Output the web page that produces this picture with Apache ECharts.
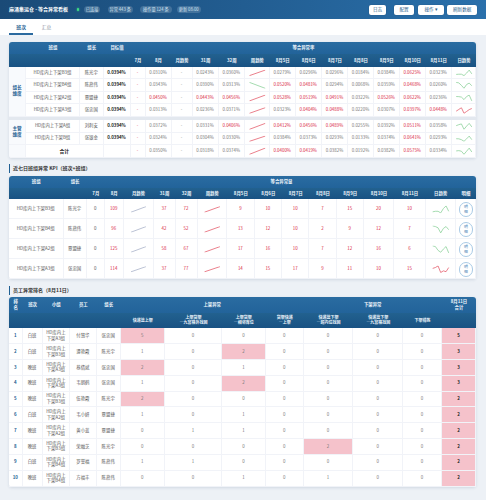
<!DOCTYPE html>
<html lang="zh">
<head>
<meta charset="UTF-8">
<title>麻涌集运仓 - 等合异常看板</title>
<script src="https://cdn.jsdelivr.net/npm/echarts@6/dist/echarts.min.js"></script>
<style>
html,body{margin:0;padding:0;width:486px;height:500px;overflow:hidden;background:#edf1f6;font-family:"Noto Sans CJK SC","Noto Sans",sans-serif;}
#page{position:absolute;left:0;top:0;width:486px;height:500px;}
#sparks{position:absolute;left:0;top:0;width:486px;height:500px;pointer-events:none;}
.box{position:absolute;box-sizing:border-box;display:flex;align-items:center;justify-content:center;text-align:center;white-space:nowrap;line-height:1.25;}
.topbar{background:linear-gradient(90deg,#1a4a77,#2a70ab);box-shadow:0 1px 3px rgba(30,60,100,.35);}
.tabs{background:#fff;}
.chip{background:rgba(255,255,255,.16);color:#d6e6f4;font-size:4.2px;border-radius:4px;}
.btn{background:#fff;color:#2a5d8c;font-size:4.6px;border-radius:2px;box-shadow:0 0 1px rgba(0,0,0,.4);}
.card{background:#fff;border-radius:3px;box-shadow:0 1px 3px rgba(40,70,110,.14);}
.hd1{background:linear-gradient(180deg,#2a6ca1,#22639a);color:#eef5fb;font-size:4.4px;font-weight:700;}
.hd2{background:linear-gradient(180deg,#22618f,#195283);color:#eef5fb;font-size:4.4px;font-weight:700;}
.td{color:#555;font-size:4.4px;border-right:1px solid #f1f3f8;border-bottom:1px solid #f1f3f8;}
.bold{font-weight:700;color:#222;}
.red{color:#d9283f;}
.dim{color:#777;}
.side{background:#f8fafd;color:#1f5f93;font-weight:700;font-size:4.6px;}
.pink{background:#f5c2cb;}
.sec{color:#333;font-size:5px;font-weight:700;justify-content:flex-start;}
.pill{border:.7px solid #a9cbe6;border-radius:50%;color:#4b86b8;font-size:3.9px;background:#fff;line-height:1.35;white-space:normal;}
</style>
</head>
<body>
<div id="page"></div>
<div id="sparks"></div>
<script>
// 等合异常率
var rateNames = ['HD库内上下架B3组','HD库内上下架B4组','HD库内上下架A2组','HD库内上下架A3组','HD库内上下架A组','HD库内上下架B组'];
var rateLeaders = ['陈光宇','陈燕伟','覃盟捷','张忠国','刘利安','张银金'];
var rateTarget = 0.0394;
var rateMonth = [0.0310,0.0343,0.0450,0.0313,0.0372,0.0324,0.0350];
var rateWeek31 = [0.0243,0.0390,0.0443,0.0236,0.0331,0.0304,0.0318];
var rateWeek32 = [0.0360,0.0313,0.0456,0.0371,0.0406,0.0330,0.0374];
var rateDaily = [
  [0.0279,0.0296,0.0296,0.0184,0.0384,0.0625,0.0323],
  [0.0520,0.0481,0.0294,0.0068,0.0359,0.0468,0.0260],
  [0.0528,0.0519,0.0491,0.0322,0.0526,0.0622,0.0236],
  [0.0323,0.0404,0.0488,0.0220,0.0307,0.0397,0.0448],
  [0.0412,0.0456,0.0489,0.0255,0.0392,0.0511,0.0358],
  [0.0384,0.0373,0.0293,0.0133,0.0374,0.0641,0.0293],
  [0.0400,0.0419,0.0382,0.0192,0.0382,0.0575,0.0334]
];
var dayLabels = ['8月5日','8月6日','8月7日','8月8日','8月9日','8月10日','8月11日'];

// 等合异常量
var kpiNames = ['HD库内上下架B3组','HD库内上下架B4组','HD库内上下架A2组','HD库内上下架A3组'];
var kpiLeaders = ['陈光宇','陈燕伟','覃盟捷','张忠国'];
var kpiJuly = [0,0,0,0];
var kpiAugust = [109,96,125,114];
var kpiWeek31 = [37,42,58,37];
var kpiWeek32 = [72,52,67,77];
var kpiDaily = [
  [9,10,10,7,15,20,10],
  [13,12,10,2,9,12,7],
  [17,16,10,7,12,16,6],
  [14,15,17,9,11,10,15]
];
var kpiLimit = 12;

// 员工异常排名
var rankShift = ['白班','白班','晚班','晚班','晚班','白班','晚班','晚班','白班','晚班'];
var rankGroup = ['A3','B3','A3','A3','B3','A2','A2','B3','B4','B4'];
var rankStaff = ['付慧华','谭艳霞','蔡倩斌','韦朝鹤','伍艳霞','韦小妍','黄小蓝','荣融芝','罗誉福','方福丰'];
var rankLeader = ['张忠国','陈光宇','张忠国','张忠国','陈光宇','覃盟捷','覃盟捷','陈光宇','陈燕伟','陈燕伟'];
var rankValues = [
  [5,0,0,0,0,0,0],
  [1,0,2,0,0,0,0],
  [2,0,1,0,0,0,0],
  [1,0,2,0,0,0,0],
  [2,0,0,0,0,0,0],
  [1,0,1,0,0,0,0],
  [0,1,1,0,0,0,0],
  [0,0,0,0,2,0,0],
  [1,1,0,0,0,0,0],
  [0,0,1,0,1,0,0]
];
var rankTotal = [5,3,3,3,2,2,2,2,2,2];
var rankHeads = ['快递篮上架','上架货架<br>—九宫格外找回','上架货架<br>—相邻库位','货架快递<br>—上架','快递篮下架<br>—超内位找回','快递篮下架<br>—九宫格找回','下架错拣'];

var page = document.getElementById('page');
function box(x0, y0, x1, y1, html, cls, css) {
    var d = document.createElement('div');
    d.className = 'box ' + (cls || '');
    d.style.left = x0 + 'px';
    d.style.top = y0 + 'px';
    d.style.width = (x1 - x0) + 'px';
    d.style.height = (y1 - y0) + 'px';
    d.innerHTML = html === undefined ? '' : html;
    if (css) d.style.cssText += css;
    page.appendChild(d);
    return d;
}
function pct(v) { return v.toFixed(4) + '%'; }
function rateCls(v) { return v > rateTarget ? 'td red' : 'td dim'; }

// 顶部
box(0, 0, 486, 18.5, '', 'topbar');
box(9, 4, 73, 15, '麻涌集运仓 - 等合异常看板', '', 'color:#fff;font-size:5px;font-weight:700;justify-content:flex-start;');
box(76.6, 8.2, 79.4, 11, '', '', 'background:#3ddc84;border-radius:50%;box-shadow:0 0 2px #3ddc84;');
box(84.3, 6.3, 100, 12.7, '已连接', 'chip');
box(107.7, 6.3, 132.7, 12.7, '异常 443 条', 'chip');
box(140, 6.3, 171.7, 12.7, '操作量 124 条', 'chip');
box(176.7, 6.3, 200.7, 12.7, '更新 08:00', 'chip');
box(369, 4.5, 386, 14.7, '日志', 'btn');
box(393.7, 4.5, 414.3, 14.7, '配置', 'btn');
box(418, 4.5, 444, 14.7, '操作 ▾', 'btn');
box(447.3, 4.5, 477, 14.7, '刷新数据', 'btn');
box(0, 18.5, 486, 34.5, '', 'tabs');
box(9, 20, 33.3, 33, '班次', '', 'color:#1f5f93;font-size:4.8px;font-weight:700;');
box(35, 20, 58, 33, '汇总', '', 'color:#8a94a3;font-size:4.8px;');
box(9, 33, 33.3, 34.5, '', '', 'background:#2b6a9f;');

var sparks = [];

// 表一：等合异常率
var c1 = [9,26,80,103.5,130.5,145.5,171.5,192.5,218.5,245,269.7,295.7,321.7,348.3,373.7,399.7,425.7,451.7,476.3];
var y1 = [66.7,79,91.7,104.3,116.7,120,132.7,144.7,157.7];
box(9, 42, 476.3, 157.7, '', 'card');
box(9, 42, 26, 54.3, '', 'hd1', 'border-top-left-radius:3px;');
box(26, 42, 80, 54.3, '班组', 'hd1');
box(80, 42, 103.5, 54.3, '组长', 'hd1');
box(103.5, 42, 130.5, 54.3, '目标值', 'hd1');
box(130.5, 42, 476.3, 54.3, '等合异常率', 'hd1', 'border-top-right-radius:3px;');
['', '', '', '', '7月','8月','月趋势','31周','32周','周趋势'].concat(dayLabels, ['日趋势']).forEach(function (t, i) {
    box(c1[i], 54.3, c1[i + 1], 66.7, t, 'hd2');
});
box(9, 66.7, 26, 116.7, '组长<br>维度', 'td side');
box(9, 120, 26, 144.7, '主管<br>维度', 'td side');
box(9, 144.7, 26, 157.7, '', 'td side', 'border-bottom-left-radius:3px;');
box(9, 116.7, 476.3, 120, '', '', 'background:#e3e8ef;');

rateDaily.forEach(function (d, i) {
    var r = i < 4 ? i : i + 1;
    var a = y1[r], b = y1[r + 1];
    if (i < 6) {
        box(c1[1], a, c1[2], b, rateNames[i], 'td');
        box(c1[2], a, c1[3], b, rateLeaders[i], 'td');
        box(c1[3], a, c1[4], b, pct(rateTarget), 'td bold');
    } else {
        box(c1[1], a, c1[3], b, '合计', 'td bold', 'font-size:4.8px;');
        box(c1[3], a, c1[4], b, '', 'td');
    }
    box(c1[4], a, c1[5], b, '-', 'td red');
    box(c1[5], a, c1[6], b, pct(rateMonth[i]), rateCls(rateMonth[i]));
    box(c1[6], a, c1[7], b, '-', 'td dim');
    box(c1[7], a, c1[8], b, pct(rateWeek31[i]), rateCls(rateWeek31[i]));
    box(c1[8], a, c1[9], b, pct(rateWeek32[i]), rateCls(rateWeek32[i]));
    box(c1[9], a, c1[10], b, '', 'td');
    d.forEach(function (v, k) {
        box(c1[10 + k], a, c1[11 + k], b, pct(v), rateCls(v));
    });
    box(c1[17], a, c1[18], b, '', 'td');
    sparks.push({ x0: c1[9] + 4.5, x1: c1[10] - 4.5, y0: a + 3.4, y1: b - 3.4, data: [rateWeek31[i], rateWeek32[i]], color: rateWeek32[i] > rateWeek31[i] ? '#e4606f' : '#8ed29c' });
    sparks.push({ x0: c1[17] + 4.5, x1: c1[18] - 4.5, y0: a + 3.4, y1: b - 3.4, data: d, color: d[6] > rateTarget ? '#e4606f' : '#8ed29c' });
});

// 表二：等合异常量
box(9, 164, 11, 173, '', '', 'background:#1f5f93;width:1px;');
box(13, 164, 200, 173, '近七日班组异常 KPI（班次+班组）', 'sec');
var c2 = [9,63.5,86.7,105,123.5,153.5,175.5,197.5,227,254.7,282,309.3,336.7,363.7,394.3,425.7,455.7,476.3];
var y2 = [199.4,219.4,239.4,259.4,279];
box(9, 176, 476.3, 279, '', 'card');
box(9, 176, 63.5, 188, '班组', 'hd1', 'border-top-left-radius:3px;');
box(63.5, 176, 86.7, 188, '组长', 'hd1');
box(86.7, 176, 476.3, 188, '等合异常量', 'hd1', 'border-top-right-radius:3px;');
['', '', '7月','8月','月趋势','31周','32周','周趋势'].concat(dayLabels, ['日趋势','明细']).forEach(function (t, i) {
    box(c2[i], 188, c2[i + 1], 199.4, t, 'hd2');
});
kpiDaily.forEach(function (d, i) {
    var a = y2[i], b = y2[i + 1];
    box(c2[0], a, c2[1], b, kpiNames[i], 'td');
    box(c2[1], a, c2[2], b, kpiLeaders[i], 'td');
    box(c2[2], a, c2[3], b, kpiJuly[i], 'td');
    box(c2[3], a, c2[4], b, kpiAugust[i], 'td red');
    box(c2[4], a, c2[5], b, '', 'td');
    box(c2[5], a, c2[6], b, kpiWeek31[i], 'td red');
    box(c2[6], a, c2[7], b, kpiWeek32[i], 'td red');
    box(c2[7], a, c2[8], b, '', 'td');
    d.forEach(function (v, k) {
        box(c2[8 + k], a, c2[9 + k], b, v, 'td red');
    });
    box(c2[15], a, c2[16], b, '', 'td');
    box(c2[16], a, c2[17], b, '', 'td');
    box((c2[16] + c2[17]) / 2 - 7.2, a + 2.8, (c2[16] + c2[17]) / 2 + 7.2, a + 17.2, '明<br>细', 'pill');
    sparks.push({ x0: c2[4] + 7.5, x1: c2[5] - 7.5, y0: a + 7.2, y1: b - 7.2, data: [kpiJuly[i], kpiAugust[i]], color: '#aab3c9' });
    sparks.push({ x0: c2[7] + 7, x1: c2[8] - 7, y0: a + 7.2, y1: b - 7.2, data: [kpiWeek31[i], kpiWeek32[i]], color: '#e4606f' });
    sparks.push({ x0: c2[15] + 7, x1: c2[16] - 7, y0: a + 6.5, y1: b - 6.5, data: d, color: d[6] > kpiLimit ? '#e4606f' : '#8ed29c' });
});

// 表三：员工异常排名
box(9, 285.5, 11, 294.5, '', '', 'background:#1f5f93;width:1px;');
box(13, 285.5, 200, 294.5, '员工异常排名（8月11日）', 'sec');
var c3 = [9,22.5,42.7,70,96.7,120.7,165,222,265.7,303.7,353.3,403.3,441.7,476.3];
var hY = [297,312.5,328.3];
var rowH = [328.3,344,360,375.7,391.7,407.3,423,439,454.7,470.7,486.7];
box(9, 297, 476.3, 486.7, '', 'card');
['排<br>名','班次','小组','员工','组长'].forEach(function (t, i) {
    box(c3[i], hY[0], c3[i + 1], hY[1], t, 'hd1', i === 0 ? 'border-top-left-radius:3px;' : '');
    box(c3[i], hY[1], c3[i + 1], hY[2], '', 'hd2');
});
box(c3[5], hY[0], c3[9], hY[1], '上架异常', 'hd1');
box(c3[9], hY[0], c3[12], hY[1], '下架异常', 'hd1');
box(c3[12], hY[0], c3[13], hY[1], '8月11日<br>合计', 'hd1', 'border-top-right-radius:3px;');
rankHeads.forEach(function (t, i) {
    box(c3[5 + i], hY[1], c3[6 + i], hY[2], t, 'hd2', 'font-size:4px;');
});
box(c3[12], hY[1], c3[13], hY[2], '', 'hd2');
rankStaff.forEach(function (name, i) {
    var a = rowH[i], b = rowH[i + 1];
    box(c3[0], a, c3[1], b, i + 1, 'td', 'color:#1f5f93;font-weight:700;');
    box(c3[1], a, c3[2], b, rankShift[i], 'td');
    box(c3[2], a, c3[3], b, 'HD库内上<br>下架' + rankGroup[i] + '组', 'td');
    box(c3[3], a, c3[4], b, name, 'td');
    box(c3[4], a, c3[5], b, rankLeader[i], 'td');
    rankValues[i].forEach(function (v, k) {
        box(c3[5 + k], a, c3[6 + k], b, v, 'td dim' + (v >= 2 ? ' pink' : ''));
    });
    box(c3[12], a, c3[13], b, rankTotal[i], 'td bold pink');
});

// 趋势小图：一个实例，每个单元格一个 grid
var chart = echarts.init(document.getElementById('sparks'), null, { renderer: 'canvas' });
var option = { animation: false, grid: [], xAxis: [], yAxis: [], series: [] };
sparks.forEach(function (s, i) {
    option.grid.push({ left: s.x0, top: s.y0, width: s.x1 - s.x0, height: s.y1 - s.y0 });
    option.xAxis.push({ gridIndex: i, type: 'category', show: false, boundaryGap: false, data: s.data.map(function (v, k) { return k; }) });
    option.yAxis.push({ gridIndex: i, type: 'value', show: false, min: Math.min.apply(null, s.data), max: Math.max.apply(null, s.data) });
    option.series.push({ type: 'line', xAxisIndex: i, yAxisIndex: i, data: s.data, symbol: 'none', silent: true, lineStyle: { color: s.color, width: 0.8 } });
});
chart.setOption(option);
</script>
</body>
</html>
